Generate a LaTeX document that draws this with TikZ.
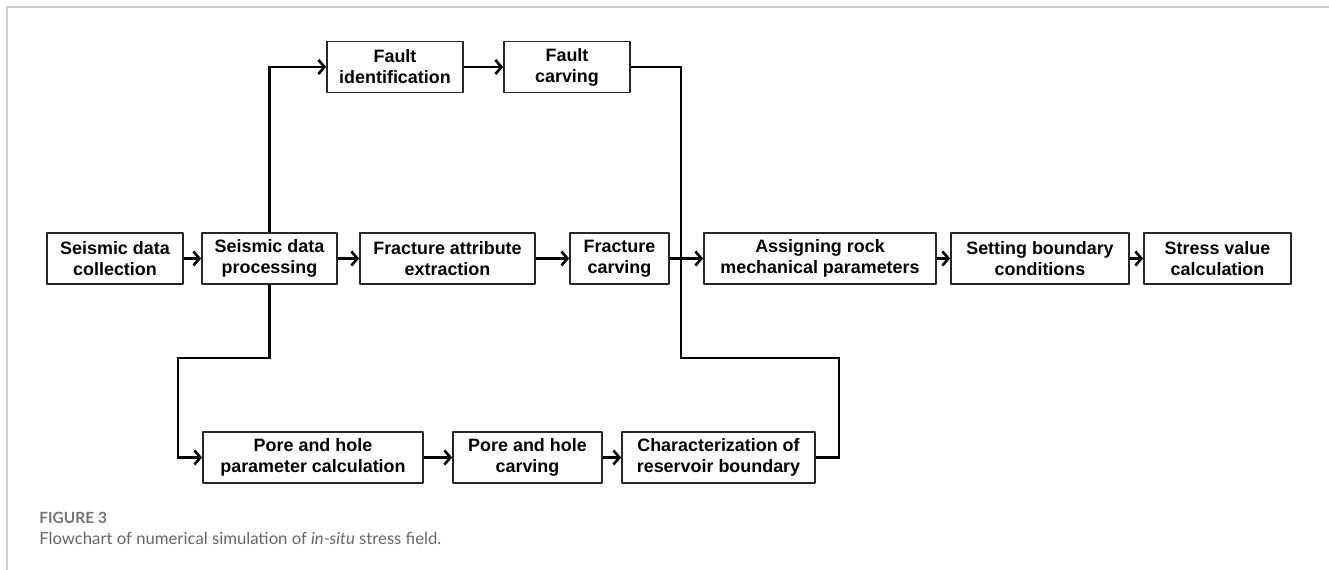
\documentclass[tikz,border=0pt]{standalone}
\usepackage{fontspec}
\setmainfont{Liberation Sans}
\newfontfamily\capfont{Lato}
\usetikzlibrary{arrows.meta}
\begin{document}
\begin{tikzpicture}[line cap=round,line join=round,
    >={Straight Barb[length=3.4pt,width=8pt]},
    stepbox/.style={draw=black!85,line width=1pt,minimum height=1.02cm,inner sep=1pt,
      align=center,font=\fontsize{10.2pt}{11.9pt}\selectfont\bfseries},
    flow/.style={line width=1.5pt,line join=miter,line cap=butt}]
  \useasboundingbox (0,0) rectangle (26.58,11.4);
  \draw[black!18,line width=1.1pt] (0.14,0) -- (0.14,11.26) -- (26.58,11.26);
  % main row
  \node[stepbox,minimum width=2.72cm] (collect) at (2.30,6.23) {Seismic data\\collection};
  \node[stepbox,minimum width=2.70cm] (process) at (5.39,6.23) {Seismic data\\processing};
  \node[stepbox,minimum width=3.50cm] (attrib) at (8.95,6.23) {Fracture attribute\\extraction};
  \node[stepbox,minimum width=1.98cm] (fraccarve) at (12.39,6.23) {Fracture\\carving};
  \node[stepbox,minimum width=4.64cm] (assign) at (16.40,6.23) {Assigning rock\\mechanical parameters};
  \node[stepbox,minimum width=3.56cm] (boundary) at (20.80,6.23) {Setting boundary\\conditions};
  \node[stepbox,minimum width=2.94cm] (stress) at (24.35,6.23) {Stress value\\calculation};
  % fault row
  \node[stepbox,minimum width=2.72cm] (faultid) at (7.90,10.06) {Fault\\identification};
  \node[stepbox,minimum width=2.52cm] (faultcarve) at (11.34,10.06) {Fault\\carving};
  % pore row
  \node[stepbox,minimum width=4.40cm] (poreparam) at (6.26,2.25) {Pore and hole\\parameter calculation};
  \node[stepbox,minimum width=2.98cm] (porecarve) at (10.55,2.25) {Pore and hole\\carving};
  \node[stepbox,minimum width=3.86cm] (reservoir) at (14.37,2.25) {Characterization of\\reservoir boundary};
  % bends
  \coordinate (merge) at (13.62,10.06);
  \coordinate (mergelow) at (13.62,4.24);
  \coordinate (resturn) at (16.78,4.24);
  \coordinate (porebend) at (3.56,4.24);
  % connectors
  \draw[flow,->] (collect) -- (process);
  \draw[flow,->] (process) -- (attrib);
  \draw[flow,->] (attrib) -- (fraccarve);
  \draw[flow,->] (fraccarve) -- (assign);
  \draw[flow,->] (assign) -- (boundary);
  \draw[flow,->] (boundary) -- (stress);
  \draw[flow,->] (process.north) |- (faultid.west);
  \draw[flow,->] (faultid) -- (faultcarve);
  \draw[flow] (faultcarve.east) -- (merge) -- (mergelow) -- (resturn) |- (reservoir.east);
  \draw[flow,->] (process.south) |- (porebend) |- (poreparam.west);
  \draw[flow,->] (poreparam) -- (porecarve);
  \draw[flow,->] (porecarve) -- (reservoir);
  % caption
  \node[anchor=base west,inner sep=0pt,text=black!55,font=\capfont\fontsize{8.8pt}{10pt}\selectfont\bfseries] (fignum) at (0.78,0.92) {FIGURE 3};
  \node[anchor=base west,inner sep=0pt,text=black!60,font=\capfont\fontsize{9.5pt}{10pt}\selectfont] (figcap) at (0.78,0.52) {Flowchart of numerical simulation of \textit{in-situ} stress field.};
\end{tikzpicture}
\end{document}
